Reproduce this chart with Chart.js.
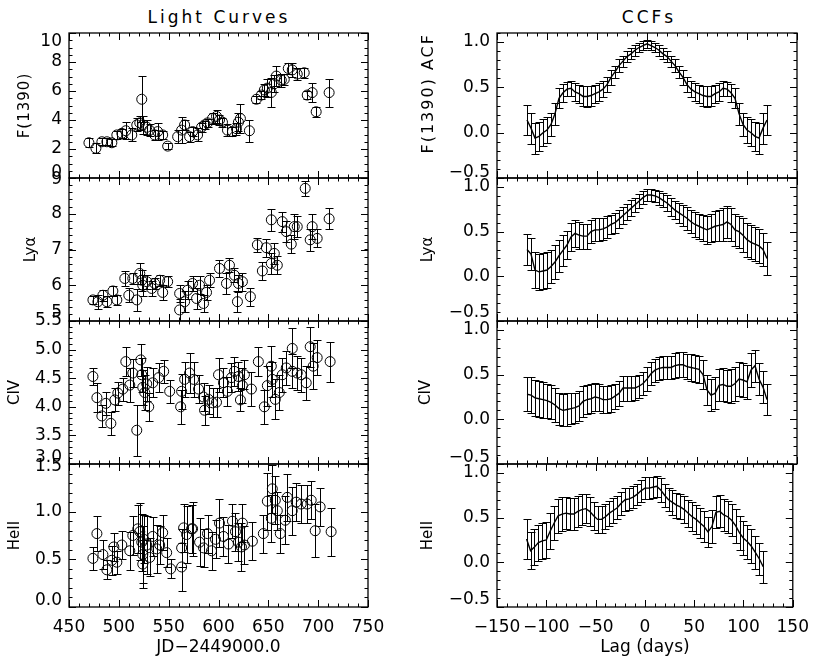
<!DOCTYPE html>
<html>
<head>
<meta charset="utf-8">
<script src="https://cdn.jsdelivr.net/npm/chart.js@4.4.1/dist/chart.umd.min.js"></script>
<style>
body { margin: 0; background: #fff; }
#wrap { position: relative; width: 819px; height: 661px; }
canvas { position: absolute; left: 0; top: 0; }
.head { position: absolute; top: 7px; font: 17px "DejaVu Sans"; letter-spacing: 3px; transform: translateX(-50%); white-space: nowrap; color: #000; }
</style>
</head>
<body>
<div id="wrap">
  <div class="head" style="left:219px">Light Curves</div>
  <div class="head" style="left:649px">CCFs</div>
  <canvas id="c0" width="819" height="661"></canvas>
  <canvas id="c1" width="819" height="661"></canvas>
  <canvas id="c2" width="819" height="661"></canvas>
  <canvas id="c3" width="819" height="661"></canvas>
  <canvas id="c4" width="819" height="661"></canvas>
  <canvas id="c5" width="819" height="661"></canvas>
  <canvas id="c6" width="819" height="661"></canvas>
  <canvas id="c7" width="819" height="661"></canvas>
</div>
<script>
// tick labels
var jdTicks = [450, 500, 550, 600, 650, 700, 750];
var lagTicks = [-150, -100, -50, 0, 50, 100, 150];
var fluxTicks = [0, 2, 4, 6, 8, 10];
var lyaTicks = [5, 6, 7, 8, 9];
var civTicks = [3.0, 3.5, 4.0, 4.5, 5.0, 5.5];
var heiiTicks = [0.0, 0.5, 1.0, 1.5];
var ccfTicks = [-0.5, 0.0, 0.5, 1.0];

// light curves (JD - 2449000)
var fluxJD = [470, 477, 483, 488, 493, 498, 503, 507, 513, 518, 521, 523, 524, 528, 531, 536, 539, 544, 549, 559,
  563, 566, 571, 574, 579, 583, 586, 589, 594, 598, 601, 604, 609, 614, 618, 620, 622, 631, 638, 643,
  646, 649, 653, 656, 658, 663, 666, 670, 674, 679, 686, 689, 694, 698, 711];
var flux = [2.43, 2.05, 2.5, 2.5, 2.43, 2.97, 3.08, 3.26, 2.97, 3.66, 3.8, 5.43, 3.66, 3.5, 3.3, 2.97, 3.2, 2.97, 2.2, 2.85,
  3.3, 3.66, 2.85, 3.2, 2.97, 3.5, 3.66, 3.8, 4.11, 4.25, 4.0, 3.85, 3.3, 3.2, 3.4, 3.85, 4.1, 3.26, 5.43, 5.72,
  6.07, 6.2, 5.9, 6.5, 7.03, 6.75, 6.8, 7.56, 7.45, 7.17, 7.26, 5.72, 5.89, 4.57, 5.89];
var fluxErr = [0.3, 0.35, 0.25, 0.25, 0.25, 0.3, 0.3, 0.6, 0.45, 0.45, 0.5, 1.6, 0.6, 0.5, 0.4, 0.35, 0.6, 0.3, 0.2, 0.45,
  0.9, 0.35, 0.35, 0.3, 0.45, 0.3, 0.3, 0.3, 0.4, 0.45, 0.35, 0.3, 0.4, 0.3, 0.4, 0.6, 1.0, 0.75, 0.25, 0.3,
  0.4, 0.6, 1.0, 0.6, 0.7, 0.45, 0.4, 0.4, 0.5, 0.4, 0.35, 0.3, 0.65, 0.35, 0.97];

var lyaJD = [474, 479, 484, 488, 494, 498, 506, 510, 514, 518, 521, 523, 524, 528, 533, 536, 541, 544, 549, 561,
  561, 566, 569, 574, 578, 581, 585, 588, 591, 601, 608, 611, 616, 620, 619, 624, 632, 639, 644, 648,
  653, 653, 656, 659, 664, 668, 673, 676, 679, 687, 692, 694, 699, 711];
var lya = [5.59, 5.54, 5.72, 5.54, 5.84, 5.59, 6.19, 5.72, 6.19, 5.59, 6.33, 6.14, 6.0, 6.1, 5.91, 6.05, 6.14, 5.8, 6.1, 5.77,
  5.31, 5.54, 5.86, 6.05, 5.63, 6.0, 5.49, 5.8, 6.14, 6.47, 6.05, 6.56, 6.28, 6.05, 5.54, 6.1, 5.68, 7.13, 6.4, 7.05,
  7.83, 6.61, 6.89, 6.56, 7.78, 7.5, 7.15, 7.64, 7.64, 8.71, 7.27, 7.64, 7.31, 7.86];
var lyaErr = [0.12, 0.2, 0.15, 0.15, 0.15, 0.15, 0.2, 0.2, 0.15, 0.3, 0.3, 0.3, 0.3, 0.2, 0.2, 0.15, 0.15, 0.2, 0.15, 0.25,
  0.3, 0.3, 0.25, 0.2, 0.3, 0.25, 0.25, 0.2, 0.2, 0.25, 0.3, 0.2, 0.2, 0.25, 0.3, 0.25, 0.25, 0.2, 0.25, 0.25,
  0.3, 0.3, 0.3, 0.25, 0.28, 0.3, 0.25, 0.35, 0.3, 0.2, 0.3, 0.35, 0.25, 0.3];

var civJD = [474, 478, 483, 487, 492, 496, 499, 504, 507, 511, 514, 518, 522, 523, 524, 526, 528, 530, 534, 540,
  545, 551, 562, 563, 566, 571, 575, 580, 585, 586, 590, 594, 598, 600, 605, 609, 613, 616, 620, 622,
  624, 626, 633, 640, 646, 649, 653, 654, 657, 661, 664, 668, 674, 674, 679, 683, 688, 692, 695, 699, 712];
var civ = [4.53, 4.16, 3.84, 4.06, 3.71, 4.12, 4.24, 4.31, 4.79, 4.38, 4.59, 3.59, 4.82, 4.56, 4.34, 4.25, 4.40, 4.00, 4.42, 4.51,
  4.62, 4.27, 4.00, 4.27, 4.48, 4.59, 4.48, 4.31, 4.17, 3.94, 4.13, 4.07, 4.08, 4.56, 4.42, 4.27, 4.51, 4.62, 4.53, 4.12,
  4.37, 4.56, 4.31, 4.79, 4.00, 4.37, 4.71, 4.48, 4.13, 4.25, 4.56, 4.68, 5.02, 4.62, 4.59, 4.56, 4.42, 5.05, 4.71, 4.86, 4.79];
var civErr = [0.15, 0.25, 0.2, 0.2, 0.2, 0.2, 0.2, 0.2, 0.25, 0.3, 0.25, 0.45, 0.28, 0.3, 0.3, 0.3, 0.3, 0.25, 0.25, 0.25,
  0.2, 0.2, 0.3, 0.3, 0.3, 0.35, 0.3, 0.25, 0.25, 0.25, 0.25, 0.25, 0.25, 0.3, 0.25, 0.25, 0.25, 0.25, 0.25, 0.2,
  0.3, 0.25, 0.3, 0.25, 0.3, 0.35, 0.35, 0.3, 0.35, 0.3, 0.3, 0.3, 0.35, 0.3, 0.3, 0.3, 0.3, 0.35, 0.4, 0.3, 0.35];

var heiiJD = [474, 478, 484, 488, 493, 495, 498, 503, 511, 514, 519, 521, 523, 524, 524, 525, 528, 531, 534, 538,
  541, 544, 548, 552, 563, 563, 565, 568, 573, 574, 581, 585, 589, 593, 597, 601, 605, 610, 614, 617,
  620, 623, 624, 626, 634, 645, 649, 653, 654, 657, 659, 662, 667, 669, 674, 678, 683, 689, 693, 697, 702, 713];
var heii = [0.51, 0.77, 0.55, 0.39, 0.49, 0.63, 0.47, 0.65, 0.59, 0.75, 0.82, 0.79, 0.68, 0.55, 0.45, 0.71, 0.65, 0.52, 0.74, 0.61,
  0.65, 0.78, 0.57, 0.40, 0.42, 0.62, 0.83, 0.76, 0.82, 0.82, 0.68, 0.62, 0.77, 0.59, 0.71, 0.88, 0.74, 0.66, 0.90, 0.79,
  0.68, 0.63, 0.88, 0.65, 0.69, 0.77, 1.11, 0.93, 1.24, 1.12, 1.01, 0.77, 0.91, 1.15, 1.01, 1.10, 1.08, 1.08, 1.12, 0.80, 1.05, 0.79];
var heiiErr = [0.12, 0.18, 0.15, 0.1, 0.15, 0.15, 0.12, 0.15, 0.2, 0.2, 0.25, 0.3, 0.3, 0.3, 0.25, 0.25, 0.3, 0.2, 0.2, 0.25,
  0.2, 0.18, 0.15, 0.1, 0.25, 0.2, 0.25, 0.3, 0.25, 0.28, 0.25, 0.2, 0.2, 0.2, 0.2, 0.25, 0.2, 0.2, 0.18, 0.2,
  0.2, 0.25, 0.2, 0.2, 0.2, 0.2, 0.3, 0.25, 0.25, 0.25, 0.2, 0.2, 0.25, 0.25, 0.25, 0.2, 0.2, 0.2, 0.2, 0.28, 0.2, 0.25];

// cross-correlation functions (lag in days)
var lags = [-120, -116, -112, -108, -104, -100, -96, -92, -88, -84, -80, -76, -72, -68, -64, -60, -56, -52, -48, -44,
  -40, -36, -32, -28, -24, -20, -16, -12, -8, -4, 0, 4, 8, 12, 16, 20, 24, 28, 32, 36,
  40, 44, 48, 52, 56, 60, 64, 68, 72, 76, 80, 84, 88, 92, 96, 100, 104, 108, 112, 116, 120];
var acfFlux = [0.14, 0.05, -0.06, -0.04, 0.00, 0.03, 0.09, 0.21, 0.38, 0.44, 0.48, 0.49, 0.45, 0.43, 0.40, 0.40, 0.41, 0.43, 0.45, 0.48,
  0.53, 0.61, 0.67, 0.74, 0.79, 0.84, 0.87, 0.91, 0.94, 0.96, 0.98, 0.96, 0.94, 0.91, 0.87, 0.84, 0.79, 0.74, 0.67, 0.61,
  0.53, 0.48, 0.45, 0.43, 0.41, 0.40, 0.40, 0.43, 0.45, 0.49, 0.48, 0.44, 0.38, 0.21, 0.09, 0.03, 0.00, -0.04, -0.06, 0.05, 0.14];
var acfFluxErr = [0.17, 0.17, 0.17, 0.16, 0.15, 0.14, 0.13, 0.12, 0.11, 0.10, 0.08, 0.08, 0.10, 0.10, 0.11, 0.12, 0.11, 0.10, 0.10, 0.09,
  0.08, 0.08, 0.07, 0.07, 0.06, 0.06, 0.06, 0.06, 0.05, 0.05, 0.04, 0.05, 0.05, 0.06, 0.06, 0.06, 0.06, 0.07, 0.07, 0.08,
  0.08, 0.09, 0.10, 0.10, 0.11, 0.12, 0.11, 0.10, 0.10, 0.08, 0.08, 0.10, 0.11, 0.12, 0.13, 0.14, 0.15, 0.16, 0.17, 0.17, 0.17];
var ccfLya = [0.30, 0.25, 0.07, 0.05, 0.06, 0.07, 0.11, 0.16, 0.23, 0.29, 0.35, 0.44, 0.48, 0.46, 0.45, 0.45, 0.50, 0.52, 0.52, 0.53,
  0.55, 0.58, 0.60, 0.64, 0.68, 0.72, 0.76, 0.80, 0.84, 0.88, 0.91, 0.91, 0.90, 0.88, 0.85, 0.82, 0.78, 0.74, 0.71, 0.68,
  0.65, 0.61, 0.58, 0.56, 0.54, 0.52, 0.54, 0.56, 0.57, 0.58, 0.61, 0.58, 0.52, 0.50, 0.46, 0.41, 0.38, 0.36, 0.34, 0.30, 0.20];
var ccfLyaErr = [0.17, 0.18, 0.2, 0.2, 0.2, 0.2, 0.19, 0.19, 0.18, 0.17, 0.16, 0.16, 0.15, 0.15, 0.14, 0.14, 0.13, 0.13, 0.13, 0.12,
  0.12, 0.11, 0.11, 0.1, 0.1, 0.09, 0.09, 0.08, 0.08, 0.07, 0.07, 0.07, 0.07, 0.08, 0.08, 0.09, 0.1, 0.1, 0.11, 0.12,
  0.13, 0.13, 0.14, 0.14, 0.15, 0.16, 0.16, 0.17, 0.17, 0.18, 0.18, 0.18, 0.18, 0.18, 0.19, 0.19, 0.19, 0.19, 0.19, 0.18, 0.18];
var ccfCiv = [0.28, 0.27, 0.24, 0.23, 0.22, 0.21, 0.19, 0.16, 0.12, 0.10, 0.11, 0.12, 0.13, 0.15, 0.20, 0.22, 0.23, 0.25, 0.24, 0.22,
  0.22, 0.23, 0.26, 0.29, 0.35, 0.35, 0.35, 0.35, 0.37, 0.40, 0.45, 0.51, 0.55, 0.57, 0.58, 0.58, 0.58, 0.60, 0.61, 0.61,
  0.59, 0.58, 0.57, 0.56, 0.50, 0.33, 0.27, 0.29, 0.38, 0.39, 0.37, 0.37, 0.40, 0.45, 0.44, 0.42, 0.55, 0.60, 0.45, 0.36, 0.22];
var ccfCivErr = [0.19, 0.2, 0.2, 0.2, 0.2, 0.19, 0.19, 0.19, 0.18, 0.18, 0.18, 0.17, 0.17, 0.17, 0.17, 0.16, 0.16, 0.16, 0.15, 0.15,
  0.15, 0.15, 0.14, 0.14, 0.14, 0.14, 0.14, 0.13, 0.13, 0.13, 0.13, 0.13, 0.13, 0.13, 0.13, 0.13, 0.13, 0.14, 0.14, 0.14,
  0.14, 0.15, 0.15, 0.15, 0.16, 0.17, 0.18, 0.18, 0.18, 0.18, 0.18, 0.19, 0.19, 0.19, 0.19, 0.19, 0.19, 0.18, 0.18, 0.18, 0.17];
var ccfHeii = [0.26, 0.13, 0.17, 0.22, 0.24, 0.25, 0.35, 0.44, 0.52, 0.54, 0.55, 0.54, 0.54, 0.57, 0.59, 0.60, 0.57, 0.52, 0.48, 0.48,
  0.51, 0.55, 0.58, 0.61, 0.66, 0.70, 0.71, 0.73, 0.76, 0.80, 0.83, 0.83, 0.84, 0.85, 0.81, 0.75, 0.70, 0.67, 0.64, 0.62,
  0.59, 0.55, 0.51, 0.48, 0.44, 0.40, 0.34, 0.40, 0.56, 0.57, 0.53, 0.51, 0.47, 0.41, 0.33, 0.27, 0.23, 0.18, 0.11, 0.04, -0.05];
var ccfHeiiErr = [0.22, 0.21, 0.2, 0.2, 0.2, 0.2, 0.2, 0.19, 0.19, 0.19, 0.18, 0.18, 0.18, 0.17, 0.17, 0.16, 0.16, 0.16, 0.15, 0.15,
  0.14, 0.14, 0.14, 0.13, 0.13, 0.13, 0.12, 0.12, 0.12, 0.12, 0.12, 0.12, 0.12, 0.12, 0.13, 0.13, 0.13, 0.14, 0.14, 0.14,
  0.15, 0.15, 0.16, 0.16, 0.17, 0.17, 0.17, 0.18, 0.18, 0.18, 0.18, 0.18, 0.18, 0.19, 0.19, 0.19, 0.19, 0.19, 0.19, 0.18, 0.18];

Chart.defaults.font.family = "'DejaVu Sans', sans-serif";
Chart.defaults.color = '#000';

function fmt(dec) {
    return function(v) {
        var s = Math.abs(v).toFixed(dec);
        return v < 0 ? '\u2212' + s : s;
    };
}

function minorValues(majors, n, min, max) {
    var step = (majors[1] - majors[0]) / n, out = [], v;
    for (v = majors[0]; v >= min - 1e-9; v -= step) out.push(v);
    for (v = majors[0] + step; v <= max + 1e-9; v += step) out.push(v);
    return out;
}

function crisp(v) { return Math.round(v) + 0.5; }

// one plugin per panel: error bars, IDL style box with inward ticks, end-label nudges
function idlPlugin(p, xMajor) {
    return {
        id: 'idl_' + p.id,
        beforeDraw: function(chart) {
            var s = chart.scales.y;
            if (!s._titlePatched && p.titleSpacing) {
                var orig = s.drawTitle;
                s.drawTitle = function() {
                    var c = this.ctx;
                    c.save();
                    c.letterSpacing = p.titleSpacing + 'px';
                    orig.apply(this, arguments);
                    c.restore();
                };
                s._titlePatched = true;
            }
            var items = s.getLabelItems();
            items.forEach(function(it, i) {
                if (it._moved || !s.ticks[i]) return;
                var v = s.ticks[i].value;
                if (Math.abs(v - s.max) < 1e-9) it.options.translation[1] += p.shiftTop;
                if (Math.abs(v - s.min) < 1e-9) it.options.translation[1] += p.shiftBottom;
                it._moved = true;
            });
        },
        beforeDatasetsDraw: function(chart) {
            var ctx = chart.ctx, a = chart.chartArea, ys = chart.scales.y;
            ctx.save();
            ctx.beginPath();
            ctx.rect(a.left, a.top, a.right - a.left, a.bottom - a.top);
            ctx.clip();
            ctx.strokeStyle = '#000';
            ctx.lineWidth = 1;
            chart.data.datasets.forEach(function(ds, di) {
                var meta = chart.getDatasetMeta(di);
                ctx.beginPath();
                meta.data.forEach(function(pt, i) {
                    var v = ds.data[i].y, e = p.errs[i];
                    var x = crisp(pt.x);
                    var t = crisp(ys.getPixelForValue(v + e));
                    var b = crisp(ys.getPixelForValue(v - e));
                    ctx.moveTo(x, t); ctx.lineTo(x, b);
                    ctx.moveTo(x - 4, t); ctx.lineTo(x + 4, t);
                    ctx.moveTo(x - 4, b); ctx.lineTo(x + 4, b);
                });
                ctx.stroke();
            });
            ctx.restore();
        },
        afterDraw: function(chart) {
            var ctx = chart.ctx, a = chart.chartArea, xs = chart.scales.x, ys = chart.scales.y;
            ctx.save();
            ctx.strokeStyle = '#000';
            ctx.lineWidth = 1.3;
            ctx.strokeRect(a.left, a.top, a.right - a.left, a.bottom - a.top);
            ctx.lineWidth = 1;
            ctx.beginPath();
            function xt(vals, len) {
                vals.forEach(function(v) {
                    var px = crisp(xs.getPixelForValue(v));
                    ctx.moveTo(px, a.bottom); ctx.lineTo(px, a.bottom - len);
                    ctx.moveTo(px, a.top); ctx.lineTo(px, a.top + len);
                });
            }
            function yt(vals, len) {
                vals.forEach(function(v) {
                    var py = crisp(ys.getPixelForValue(v));
                    ctx.moveTo(a.left, py); ctx.lineTo(a.left + len, py);
                    ctx.moveTo(a.right, py); ctx.lineTo(a.right - len, py);
                });
            }
            xt(minorValues(xMajor, 5, xs.min, xs.max), 3.5);
            xt(xMajor, 7);
            yt(minorValues(p.ticks, p.minor, ys.min, ys.max), 3.5);
            yt(p.ticks, 7);
            ctx.stroke();
            ctx.restore();
        }
    };
}

function makePanel(p) {
    var left = p.col === 0;
    var plotLeft = left ? 69 : 497, plotRight = left ? 368 : 797;
    var padLeft = p.titleX - 9;
    var bottomPanel = p.bottom === 607;
    var xTicks = left ? jdTicks : lagTicks;
    var ds = {
        data: p.xs.map(function(x, i) { return {x: x, y: p.ys[i]}; }),
        borderColor: '#000',
        backgroundColor: 'rgba(0,0,0,0)'
    };
    if (p.line) {
        ds.showLine = true;
        ds.pointRadius = 0;
        ds.borderWidth = 1.4;
    } else {
        ds.showLine = false;
        ds.pointRadius = 5;
        ds.pointBorderWidth = 1;
        ds.pointBorderColor = '#000';
        ds.pointBackgroundColor = 'rgba(0,0,0,0)';
    }
    var xScale = {
        type: 'linear',
        min: xTicks[0],
        max: xTicks[xTicks.length - 1],
        display: bottomPanel,
        grid: { display: false, drawTicks: false },
        border: { display: false },
        afterBuildTicks: function(s) { s.ticks = xTicks.map(function(v) { return {value: v}; }); },
        ticks: { padding: 10, font: { size: 17 }, autoSkip: false, maxRotation: 0, minRotation: 0, callback: fmt(0) },
        title: { display: true, text: left ? 'JD\u22122449000.0' : 'Lag (days)', font: { size: 17 }, padding: 0 }
    };
    if (bottomPanel) xScale.afterFit = function(s) { s.height = 51; };
    new Chart(document.getElementById(p.id), {
        type: 'scatter',
        data: { datasets: [ds] },
        options: {
            responsive: false,
            animation: false,
            events: [],
            layout: { padding: { left: padLeft, right: 819 - plotRight, top: p.top, bottom: bottomPanel ? 3 : 661 - p.bottom } },
            plugins: { legend: { display: false }, tooltip: { enabled: false } },
            scales: {
                x: xScale,
                y: {
                    type: 'linear',
                    min: p.min,
                    max: p.max,
                    grid: { display: false, drawTicks: false },
                    border: { display: false },
                    afterBuildTicks: function(s) { s.ticks = p.ticks.map(function(v) { return {value: v}; }); },
                    afterFit: function(s) { s.width = plotLeft - padLeft; },
                    ticks: { padding: 7, font: { size: 17 }, autoSkip: false, callback: fmt(p.dec) },
                    title: { display: true, text: p.title, font: { size: p.titleSize || 15 }, padding: 0, align: p.titleAlign || 'center' }
                }
            }
        },
        plugins: [idlPlugin(p, xTicks)]
    });
}

var rows = [[33, 178], [178, 321], [321, 464], [464, 607]];

makePanel({ id: 'c0', col: 0, top: rows[0][0], bottom: rows[0][1], xs: fluxJD, ys: flux, errs: fluxErr,
    min: 0, max: 10, ticks: fluxTicks, minor: 4, dec: 0, title: 'F(1390)', titleX: 25, titleSpacing: 1, shiftTop: 9, shiftBottom: -5 });
makePanel({ id: 'c1', col: 0, top: rows[1][0], bottom: rows[1][1], xs: lyaJD, ys: lya, errs: lyaErr,
    min: 5, max: 9, ticks: lyaTicks, minor: 5, dec: 0, title: 'Ly\u03b1', titleX: 31, shiftTop: 2, shiftBottom: -8 });
makePanel({ id: 'c2', col: 0, top: rows[2][0], bottom: rows[2][1], xs: civJD, ys: civ, errs: civErr,
    min: 3, max: 5.5, ticks: civTicks, minor: 5, dec: 1, title: 'CIV', titleX: 15, shiftTop: 0, shiftBottom: -6 });
makePanel({ id: 'c3', col: 0, top: rows[3][0], bottom: rows[3][1], xs: heiiJD, ys: heii, errs: heiiErr,
    min: 0, max: 1.5, ticks: heiiTicks, minor: 5, dec: 1, title: 'HeII', titleX: 15, shiftTop: 3, shiftBottom: -6 });

makePanel({ id: 'c4', col: 1, top: rows[0][0], bottom: rows[0][1], xs: lags, ys: acfFlux, errs: acfFluxErr, line: true,
    min: -0.5, max: 1.1, ticks: ccfTicks, minor: 5, dec: 1, title: 'F(1390) ACF', titleX: 428, titleSize: 16, titleSpacing: 2, titleAlign: 'end', shiftTop: 0, shiftBottom: -5 });
makePanel({ id: 'c5', col: 1, top: rows[1][0], bottom: rows[1][1], xs: lags, ys: ccfLya, errs: ccfLyaErr, line: true,
    min: -0.5, max: 1.1, ticks: ccfTicks, minor: 5, dec: 1, title: 'Ly\u03b1', titleX: 428, shiftTop: 0, shiftBottom: -8 });
makePanel({ id: 'c6', col: 1, top: rows[2][0], bottom: rows[2][1], xs: lags, ys: ccfCiv, errs: ccfCivErr, line: true,
    min: -0.5, max: 1.1, ticks: ccfTicks, minor: 5, dec: 1, title: 'CIV', titleX: 426, shiftTop: 0, shiftBottom: -6 });
makePanel({ id: 'c7', col: 1, top: rows[3][0], bottom: rows[3][1], xs: lags, ys: ccfHeii, errs: ccfHeiiErr, line: true,
    min: -0.5, max: 1.1, ticks: ccfTicks, minor: 5, dec: 1, title: 'HeII', titleX: 428, shiftTop: 0, shiftBottom: -7 });
</script>
</body>
</html>
